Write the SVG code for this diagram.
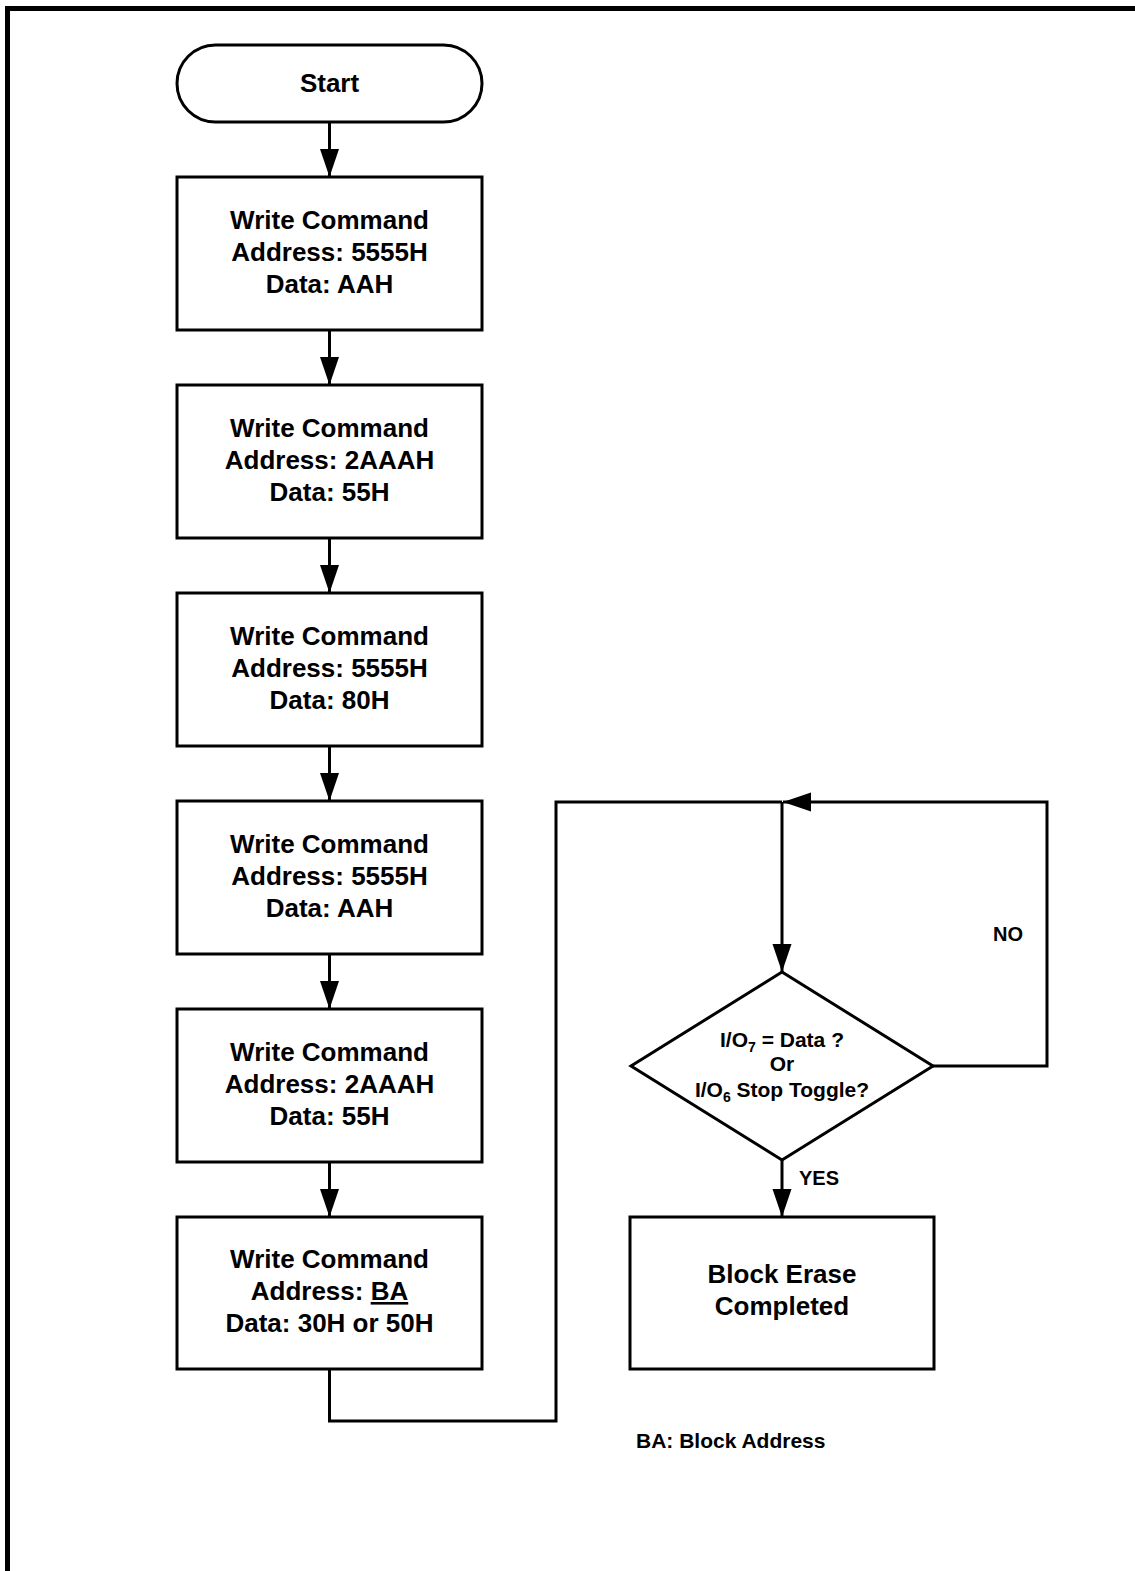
<svg xmlns="http://www.w3.org/2000/svg" width="1135" height="1571" viewBox="0 0 1135 1571">
<style>
.shape{fill:#fff;stroke:#000;stroke-width:3}
.line{fill:none;stroke:#000;stroke-width:3}
.t{font-family:"Liberation Sans",Arial,sans-serif;font-weight:bold;font-size:26px;fill:#000;text-anchor:middle}
.d{font-family:"Liberation Sans",Arial,sans-serif;font-weight:bold;font-size:21px;fill:#000;text-anchor:middle}
.l{font-family:"Liberation Sans",Arial,sans-serif;font-weight:bold;font-size:20px;fill:#000}
.n{font-family:"Liberation Sans",Arial,sans-serif;font-weight:bold;font-size:21px;fill:#000}
</style>
<defs>
<marker id="arr" markerUnits="userSpaceOnUse" markerWidth="28" markerHeight="20" refX="28" refY="10" orient="auto">
<path d="M0,0.5 L28,10 L0,19.5 z" fill="#000"/>
</marker>
</defs>
<rect width="1135" height="1571" fill="#fff"/>
<path d="M7.5,1571 V8.5 H1135" fill="none" stroke="#000" stroke-width="5"/>
<g id="connectors">
<path class="line" d="M329.5,122 V177" marker-end="url(#arr)"/>
<path class="line" d="M329.5,330 V385" marker-end="url(#arr)"/>
<path class="line" d="M329.5,538 V593" marker-end="url(#arr)"/>
<path class="line" d="M329.5,746 V801" marker-end="url(#arr)"/>
<path class="line" d="M329.5,954 V1009" marker-end="url(#arr)"/>
<path class="line" d="M329.5,1162 V1217" marker-end="url(#arr)"/>
<path class="line" d="M329.5,1369 V1421 H556 V802 H782"/>
<path class="line" d="M782,802 V972" marker-end="url(#arr)"/>
<path class="line" d="M933,1066 H1047 V802 H783" marker-end="url(#arr)"/>
<path class="line" d="M782,1160 V1217" marker-end="url(#arr)"/>
<text class="l" x="993" y="941">NO</text>
<text class="l" x="799" y="1185">YES</text>
</g>
<g id="start">
<rect class="shape" x="177" y="45" width="305" height="77" rx="38.5" ry="38.5"/>
<text class="t" x="329.5" y="92">Start</text>
</g>
<g id="step1">
<rect class="shape" x="177" y="177" width="305" height="153"/>
<text class="t" x="329.5" y="229">Write Command</text>
<text class="t" x="329.5" y="261">Address: 5555H</text>
<text class="t" x="329.5" y="293">Data: AAH</text>
</g>
<g id="step2">
<rect class="shape" x="177" y="385" width="305" height="153"/>
<text class="t" x="329.5" y="437">Write Command</text>
<text class="t" x="329.5" y="469">Address: 2AAAH</text>
<text class="t" x="329.5" y="501">Data: 55H</text>
</g>
<g id="step3">
<rect class="shape" x="177" y="593" width="305" height="153"/>
<text class="t" x="329.5" y="645">Write Command</text>
<text class="t" x="329.5" y="677">Address: 5555H</text>
<text class="t" x="329.5" y="709">Data: 80H</text>
</g>
<g id="step4">
<rect class="shape" x="177" y="801" width="305" height="153"/>
<text class="t" x="329.5" y="853">Write Command</text>
<text class="t" x="329.5" y="885">Address: 5555H</text>
<text class="t" x="329.5" y="917">Data: AAH</text>
</g>
<g id="step5">
<rect class="shape" x="177" y="1009" width="305" height="153"/>
<text class="t" x="329.5" y="1061">Write Command</text>
<text class="t" x="329.5" y="1093">Address: 2AAAH</text>
<text class="t" x="329.5" y="1125">Data: 55H</text>
</g>
<g id="step6">
<rect class="shape" x="177" y="1217" width="305" height="152"/>
<text class="t" x="329.5" y="1268">Write Command</text>
<text class="t" x="329.5" y="1300">Address: <tspan text-decoration="underline">BA</tspan></text>
<text class="t" x="329.5" y="1332">Data: 30H or 50H</text>
</g>
<g id="decision">
<polygon class="shape" points="782,972 933,1066 782,1160 631,1066"/>
<text class="d" x="782" y="1047">I/O<tspan font-size="14" dy="5">7</tspan><tspan dy="-5"> = Data ?</tspan></text>
<text class="d" x="782" y="1071">Or</text>
<text class="d" x="782" y="1097">I/O<tspan font-size="14" dy="5">6</tspan><tspan dy="-5"> Stop Toggle?</tspan></text>
</g>
<g id="done">
<rect class="shape" x="630" y="1217" width="304" height="152"/>
<text class="t" x="782" y="1283">Block Erase</text>
<text class="t" x="782" y="1315">Completed</text>
</g>
<g id="note">
<text class="n" x="636" y="1448">BA: Block Address</text>
</g>
</svg>
